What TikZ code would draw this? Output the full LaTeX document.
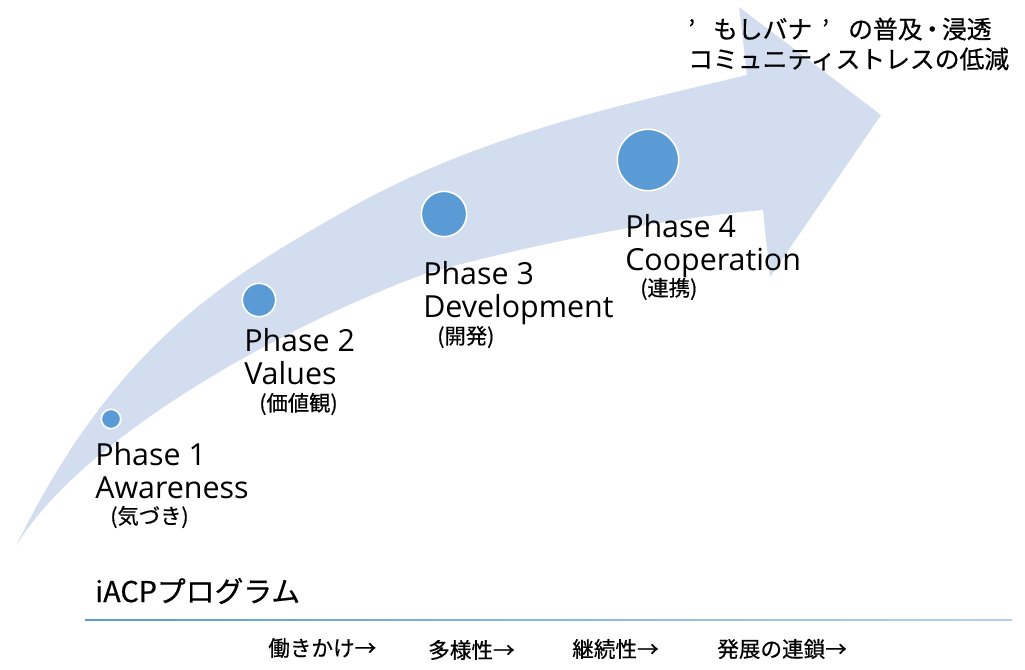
\documentclass[tikz,border=0pt]{standalone}
\usepackage{fontspec}
\setmainfont{Noto Sans CJK JP}
\newfontfamily\latinf{Open Sans}
\newfontfamily\jpm[FakeBold=0.5]{Noto Sans CJK JP}
\definecolor{arrowfill}{HTML}{D2DEEF}
\definecolor{dotfill}{HTML}{5B9BD5}
\newcommand{\qa}{\hbox to 1em{’\hss}}
\newcommand{\qb}{\hbox to 1.45em{\hskip.4em ’\hss}}
\newcommand{\nakag}{\hbox to .78em{\hss ・\hss}}
\tikzset{
  x=0.75pt,y=-0.75pt,
  dot/.style={circle,draw=white,line width=1.2pt,fill=dotfill,inner sep=0pt,minimum size=#1},
  phase/.style={anchor=north west,inner sep=0pt,align=left,font=\fontsize{22.8pt}{24.8pt}\selectfont\latinf,text=black},
  sub/.style={anchor=west,inner sep=0pt,font=\fontsize{16pt}{16pt}\selectfont\jpm,text=black},
  topnote/.style={anchor=west,inner sep=0pt,font=\fontsize{18.6pt}{20pt}\selectfont\jpm,text=black},
  steplabel/.style={anchor=west,inner sep=0pt,font=\fontsize{16.2pt}{17pt}\selectfont\jpm,text=black}
}
\begin{document}
\begin{tikzpicture}
\useasboundingbox (0,0) rectangle (1025,670);
\fill[arrowfill] (16,546)
  .. controls (118,338) and (233,275) .. (350,208)
  .. controls (480,135) and (617,106) .. (747,75)
  -- (739,7) -- (881,115) -- (770,277) -- (763,210)
  .. controls (650,220) and (527,246) .. (427,273)
  .. controls (277,328) and (80,440) .. (16,546) -- cycle;
\node[dot=19.4*0.75pt] (p1) at (111,419) {};
\node[dot=33.4*0.75pt] (p2) at (259,300) {};
\node[dot=45.4*0.75pt] (p3) at (444,214) {};
\node[dot=61.4*0.75pt] (p4) at (648,160) {};
\node[phase] (t1) at (95,442) {Phase 1\\Awareness};
\node[sub] (s1) at (110,517) {(気づき)};
\node[phase] (t2) at (244,328) {Phase 2\\Values};
\node[sub] (s2) at (259,404) {(価値観)};
\node[phase] (t3) at (423,261) {Phase 3\\Development};
\node[sub] (s3) at (437,337) {(開発)};
\node[phase] (t4) at (625,214) {Phase 4\\Cooperation};
\node[sub] (s4) at (640,289) {(連携)};
\node[topnote] (n1) at (688,29) {\qa もしバナ\qb の普及\nakag 浸透};
\node[topnote] (n2) at (688,59) {コミュニティストレスの低減};
\node[anchor=west,inner sep=0pt,font=\fontsize{21.6pt}{24pt}\selectfont\jpm] (prog) at (95,591) {iACPプログラム};
\shade[left color=dotfill,right color=dotfill!45] (85,619.5) rectangle (1012,620.8);
\node[steplabel] (k1) at (268,648) {働きかけ→};
\node[steplabel] (k2) at (428,650) {多様性→};
\node[steplabel] (k3) at (572,649) {継続性→};
\node[steplabel] (k4) at (717,649) {発展の連鎖→};
\end{tikzpicture}
\end{document}
